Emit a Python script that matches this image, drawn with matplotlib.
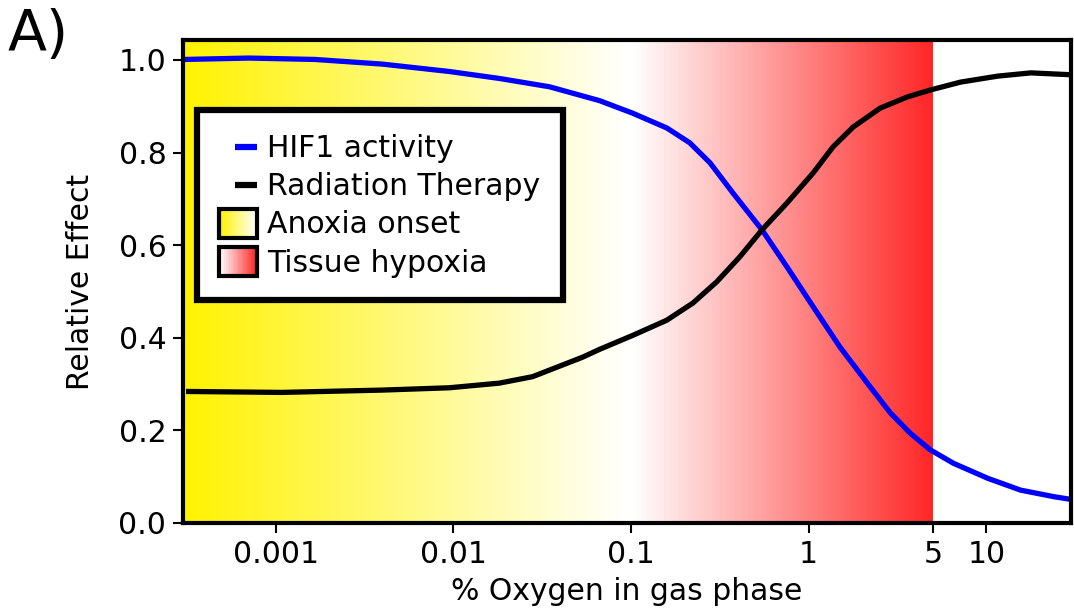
import numpy as np
import matplotlib
matplotlib.use("Agg")
import matplotlib.pyplot as plt
from matplotlib.legend_handler import HandlerBase
from matplotlib.patches import Rectangle
from matplotlib.lines import Line2D
from matplotlib.colors import LinearSegmentedColormap

# ---- data ----
hif_x = [0.000306, 0.000705, 0.00166, 0.00396, 0.00947, 0.0181, 0.0347, 0.0665,
         0.102, 0.159, 0.214, 0.278, 0.374, 0.546, 0.755, 1.06, 1.50, 2.14,
         2.88, 3.73, 4.84, 6.53, 10.2, 15.6, 23.9, 29.9]
hif_y = [1.001, 1.004, 1.001, 0.991, 0.975, 0.960, 0.942, 0.912,
         0.885, 0.853, 0.821, 0.778, 0.713, 0.633, 0.553, 0.467, 0.380, 0.302,
         0.238, 0.194, 0.158, 0.129, 0.0965, 0.071, 0.057, 0.051]

rad_x = [0.000323, 0.00108, 0.00396, 0.00947, 0.0181, 0.0279, 0.0533, 0.0665,
         0.102, 0.159, 0.223, 0.304, 0.410, 0.546, 0.755, 1.06, 1.37, 1.78,
         2.53, 3.59, 4.84, 7.15, 11.6, 17.8, 29.9]
rad_y = [0.284, 0.282, 0.287, 0.292, 0.302, 0.316, 0.358, 0.375,
         0.405, 0.438, 0.475, 0.521, 0.575, 0.633, 0.691, 0.756, 0.812, 0.855,
         0.896, 0.920, 0.935, 0.952, 0.965, 0.972, 0.968]

xticks = [0.001, 0.01, 0.1, 1, 5, 10]
xtick_labels = ["0.001", "0.01", "0.1", "1", "5", "10"]
yticks = [0.0, 0.2, 0.4, 0.6, 0.8, 1.0]
ytick_labels = ["0.0", "0.2", "0.4", "0.6", "0.8", "1.0"]

series_labels = ["HIF1 activity", "Radiation Therapy"]
region_labels = ["Anoxia onset", "Tissue hypoxia"]

xmin, xmax = 0.0003, 30.0
anoxia_end = 0.1
hypoxia_end = 5.0

YELLOW = (1.0, 0.95, 0.0)
RED = (1.0, 0.15, 0.15)

FS = 21.5
plt.rcParams['font.family'] = ['DejaVu Sans']

fig = plt.figure(figsize=(10.74, 6.11), dpi=100)
ax = fig.add_axes([183/1074, (611-523)/611, 888/1074, 483/611])
ax.set_xscale('log')
ax.set_xlim(xmin, xmax)
ax.set_ylim(0, 1.043)

# gradient backgrounds
cm_y = LinearSegmentedColormap.from_list('yw', [YELLOW, (1, 1, 1)])
cm_r = LinearSegmentedColormap.from_list('wr', [(1, 1, 1), RED])
n = 300
xe1 = np.logspace(np.log10(xmin), np.log10(anoxia_end), n + 1)
xe2 = np.logspace(np.log10(anoxia_end), np.log10(hypoxia_end), n + 1)
ye = np.array([0, 1.043])
ax.pcolormesh(xe1, ye, np.linspace(0, 1, n)[None, :], cmap=cm_y, shading='flat',
              vmin=0, vmax=1, zorder=0, rasterized=True)
ax.pcolormesh(xe2, ye, np.linspace(0, 1, n)[None, :], cmap=cm_r, shading='flat',
              vmin=0, vmax=1, zorder=0, rasterized=True)

ax.plot(hif_x, hif_y, color='blue', lw=3.8, zorder=3, solid_joinstyle='round')
ax.plot(rad_x, rad_y, color='black', lw=3.8, zorder=3, solid_joinstyle='round')

ax.set_xticks(xticks)
ax.set_xticklabels(xtick_labels)
ax.xaxis.set_minor_locator(matplotlib.ticker.NullLocator())
ax.set_yticks(yticks)
ax.set_yticklabels(ytick_labels)
ax.tick_params(axis='both', which='major', labelsize=FS, length=7, width=1.5,
               direction='out', pad=5)
for s in ax.spines.values():
    s.set_linewidth(3)
    s.set_zorder(5)

ax.set_xlabel('% Oxygen in gas phase', fontsize=FS, labelpad=6)
ax.set_ylabel('Relative Effect', fontsize=FS, labelpad=17)

fig.text(8/1074, 1 - 8/611, 'A)', fontsize=41, va='top', ha='left')


class LineHandler(HandlerBase):
    def __init__(self, color):
        super().__init__()
        self.color = color

    def create_artists(self, legend, orig_handle, xdescent, ydescent, width,
                       height, fontsize, trans):
        y = -ydescent + height / 2
        x0 = -xdescent + width * 0.42
        x1 = -xdescent + width
        ln = Line2D([x0, x1], [y, y], color=self.color, lw=4.5, transform=trans,
                    solid_capstyle='butt')
        return [ln]


class GradHandler(HandlerBase):
    def __init__(self, c0, c1):
        super().__init__()
        self.c0 = np.array(c0)
        self.c1 = np.array(c1)

    def create_artists(self, legend, orig_handle, xdescent, ydescent, width,
                       height, fontsize, trans):
        arts = []
        m = 30
        for i in range(m):
            t = i / (m - 1)
            c = self.c0 * (1 - t) + self.c1 * t
            arts.append(Rectangle((-xdescent + i * width / m, -ydescent),
                                  width / m + 0.3, height, facecolor=c,
                                  edgecolor='none', transform=trans))
        arts.append(Rectangle((-xdescent, -ydescent), width, height, fill=False,
                              edgecolor='black', lw=3, transform=trans))
        return arts


h = [Line2D([], []), Line2D([], []), Rectangle((0, 0), 1, 1), Rectangle((0, 0), 1, 1)]
hmap = {h[0]: LineHandler('blue'), h[1]: LineHandler('black'),
        h[2]: GradHandler(YELLOW, (1, 1, 1)), h[3]: GradHandler((1, 1, 1), RED)}
leg = ax.legend(h, series_labels + region_labels, handler_map=hmap,
                loc='upper left', bbox_to_anchor=(14/888, (523-110)/483),
                borderaxespad=0, fontsize=FS, handlelength=1.25, handleheight=1.1,
                handletextpad=0.35, labelspacing=0.26, borderpad=0.75,
                fancybox=False, framealpha=1, edgecolor='black')
leg.get_frame().set_linewidth(4.5)
leg.set_zorder(6)

fig.savefig('out.png', dpi=100)
